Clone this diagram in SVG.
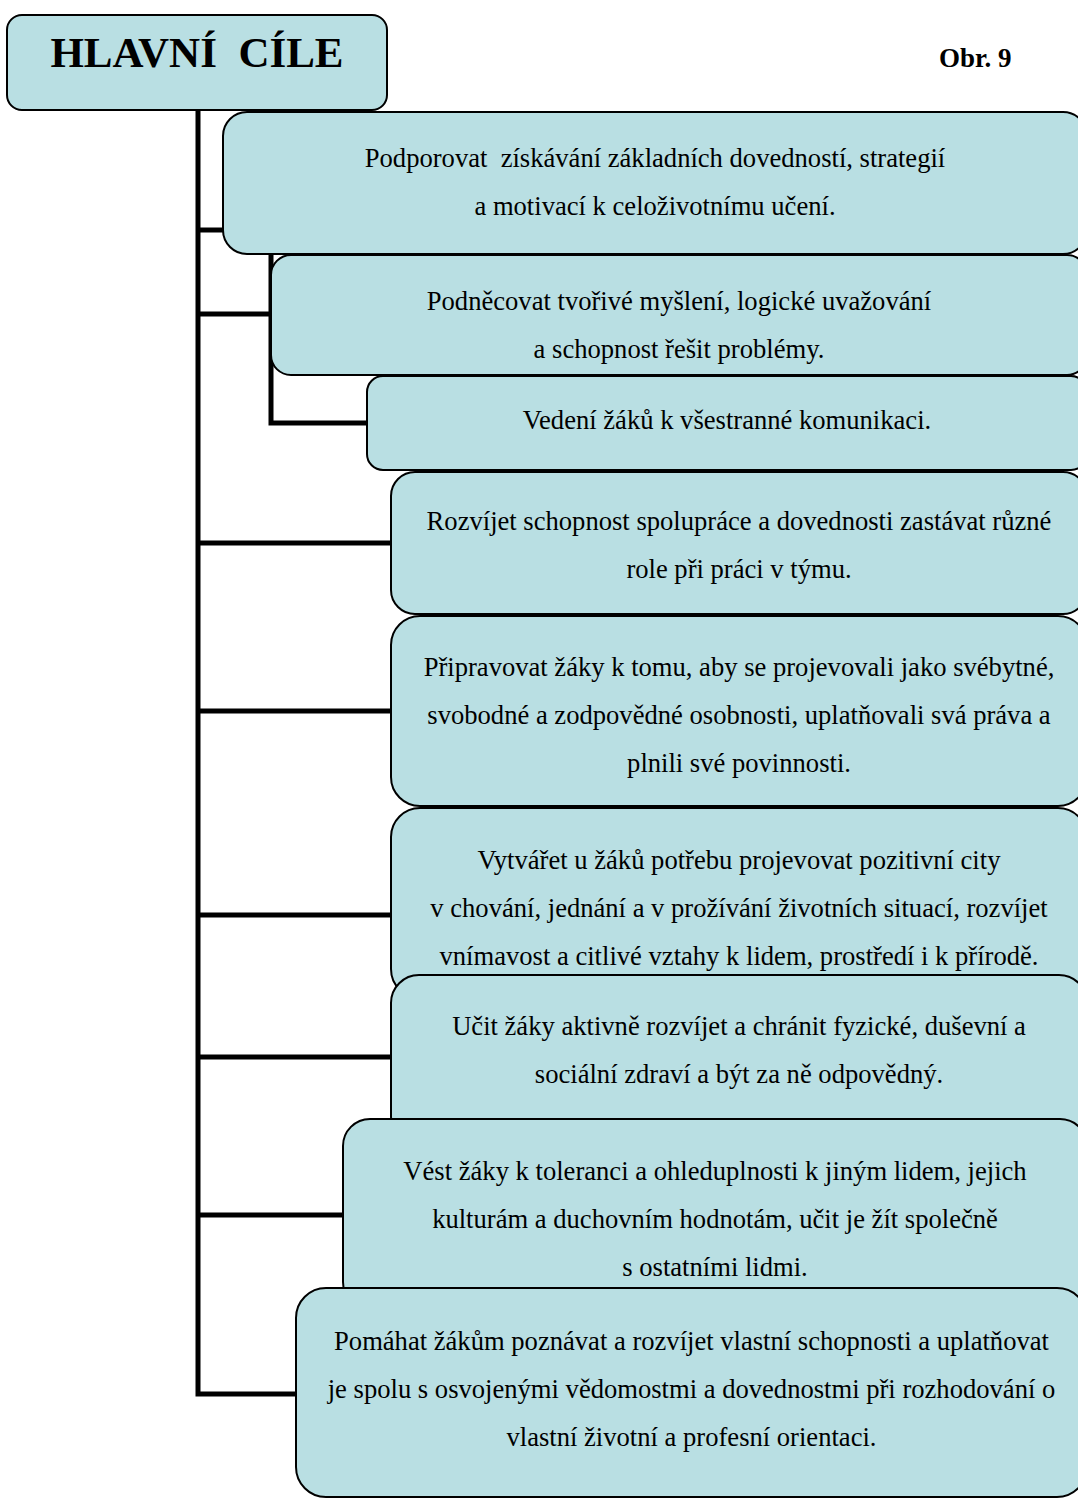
<svg xmlns="http://www.w3.org/2000/svg" width="1078" height="1499" viewBox="0 0 1078 1499">
<style>
.box{fill:#B9DFE3;stroke:#000;stroke-width:2}
.t{font-family:"Liberation Serif","Times New Roman",serif;font-size:26.6px;fill:#000;text-anchor:middle;white-space:pre}
.title{font-family:"Liberation Serif","Times New Roman",serif;font-size:43px;font-weight:bold;fill:#000;text-anchor:middle;white-space:pre}
.obr{font-family:"Liberation Serif","Times New Roman",serif;font-size:27px;font-weight:bold;fill:#000}
.c{fill:none;stroke:#000;stroke-width:5;stroke-linejoin:miter}
</style>
<rect width="1078" height="1499" fill="#fff"/>
<g id="connectors">
<path class="c" d="M198,110 V1394 H296"/>
<path class="c" d="M198,230 H223"/>
<path class="c" d="M198,314 H271"/>
<path class="c" d="M271,254 V423 H367"/>
<path class="c" d="M198,543 H391"/>
<path class="c" d="M198,711 H391"/>
<path class="c" d="M198,915 H391"/>
<path class="c" d="M198,1057 H391"/>
<path class="c" d="M198,1215 H343"/>
</g>
<g id="title">
<rect class="box" x="7" y="15" width="380" height="95" rx="15"/>
<text class="title" x="197" y="67" xml:space="preserve">HLAVNÍ  CÍLE</text>
</g>
<g id="caption">
<text class="obr" x="939" y="67">Obr. 9</text>
</g>
<g id="n1">
<rect class="box" x="223" y="112" width="864" height="142" rx="24"/>
<text class="t" x="655" y="167" xml:space="preserve">Podporovat  získávání základních dovedností, strategií</text>
<text class="t" x="655" y="215">a motivací k celoživotnímu učení.</text>
</g>
<g id="n2">
<rect class="box" x="271" y="255" width="816" height="120" rx="20"/>
<text class="t" x="679" y="310">Podněcovat tvořivé myšlení, logické uvažování</text>
<text class="t" x="679" y="358">a schopnost řešit problémy.</text>
</g>
<g id="n3">
<rect class="box" x="367" y="376" width="720" height="94" rx="16"/>
<text class="t" x="727" y="429">Vedení žáků k všestranné komunikaci.</text>
</g>
<g id="n4">
<rect class="box" x="391" y="472" width="696" height="142" rx="24"/>
<text class="t" x="739" y="530">Rozvíjet schopnost spolupráce a dovednosti zastávat různé</text>
<text class="t" x="739" y="578">role při práci v týmu.</text>
</g>
<g id="n5">
<rect class="box" x="391" y="616" width="696" height="190" rx="29"/>
<text class="t" x="739" y="676">Připravovat žáky k tomu, aby se projevovali jako svébytné,</text>
<text class="t" x="739" y="724">svobodné a zodpovědné osobnosti, uplatňovali svá práva a</text>
<text class="t" x="739" y="772">plnili své povinnosti.</text>
</g>
<g id="n6">
<rect class="box" x="391" y="808" width="696" height="190" rx="29"/>
<text class="t" x="739" y="869">Vytvářet u žáků potřebu projevovat pozitivní city</text>
<text class="t" x="739" y="917">v chování, jednání a v prožívání životních situací, rozvíjet</text>
<text class="t" x="739" y="965">vnímavost a citlivé vztahy k lidem, prostředí i k přírodě.</text>
</g>
<g id="n7">
<rect class="box" x="391" y="975" width="696" height="170" rx="28"/>
<text class="t" x="739" y="1035">Učit žáky aktivně rozvíjet a chránit fyzické, duševní a</text>
<text class="t" x="739" y="1083">sociální zdraví a být za ně odpovědný.</text>
</g>
<g id="n8">
<rect class="box" x="343" y="1119" width="744" height="190" rx="27"/>
<text class="t" x="715" y="1180">Vést žáky k toleranci a ohleduplnosti k jiným lidem, jejich</text>
<text class="t" x="715" y="1228">kulturám a duchovním hodnotám, učit je žít společně</text>
<text class="t" x="715" y="1276">s ostatními lidmi.</text>
</g>
<g id="n9">
<rect class="box" x="296" y="1288" width="791" height="209" rx="30"/>
<text class="t" x="691.5" y="1350">Pomáhat žákům poznávat a rozvíjet vlastní schopnosti a uplatňovat</text>
<text class="t" x="691.5" y="1398">je spolu s osvojenými vědomostmi a dovednostmi při rozhodování o</text>
<text class="t" x="691.5" y="1446">vlastní životní a profesní orientaci.</text>
</g>
</svg>
